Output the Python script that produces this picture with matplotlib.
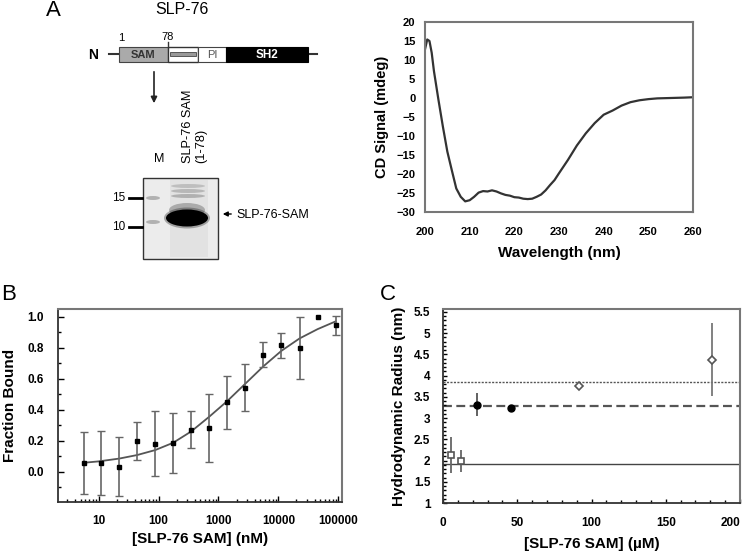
import numpy as np
import matplotlib
matplotlib.use("Agg")
import matplotlib.pyplot as plt
from matplotlib.patches import Rectangle, Ellipse, FancyArrowPatch
from matplotlib.ticker import MultipleLocator, FixedLocator, NullFormatter

plt.rcParams['font.family'] = ['Liberation Sans', 'DejaVu Sans']

# CD spectrum (panel A right)
cd_wl = [200.0, 200.5, 201.0, 201.5, 202.0, 203.0, 204.0, 205.0, 206.0, 207.0,
         208.0, 209.0, 210.0, 211.0, 212.0, 213.0, 214.0, 215.0, 216.0, 217.0,
         218.0, 219.0, 220.0, 221.0, 222.0, 223.0, 224.0, 225.0, 226.0, 227.0,
         228.0, 229.0, 230.0, 232.0, 234.0, 236.0, 238.0, 240.0, 242.0, 244.0,
         246.0, 248.0, 250.0, 252.0, 255.0, 258.0, 260.0]
cd_signal = [12.8, 15.4, 15.0, 11.9, 7.1, -0.4, -7.5, -14.1, -19.0, -23.8,
             -26.0, -27.2, -26.9, -26.0, -24.9, -24.5, -24.6, -24.3, -24.6, -25.1,
             -25.5, -25.7, -26.1, -26.2, -26.5, -26.6, -26.5, -26.0, -25.4, -24.3,
             -22.9, -21.6, -19.8, -16.3, -12.5, -9.3, -6.6, -4.4, -3.3, -2.0,
             -1.1, -0.6, -0.3, -0.1, 0.0, 0.1, 0.2]

# binding curve (panel B)
conc_nm = [5.6, 11, 22, 44, 88, 175, 350, 700, 1400, 2800, 5600, 11200, 22500, 45000, 90000]
frac_bound = [0.056, 0.056, 0.034, 0.20, 0.18, 0.187, 0.272, 0.283, 0.449, 0.542,
              0.755, 0.816, 0.80, 1.0, 0.944]
frac_err = [0.20, 0.205, 0.19, 0.123, 0.21, 0.195, 0.12, 0.218, 0.17, 0.15,
            0.08, 0.08, 0.20, np.nan, 0.06]
fit_conc = [5.6, 10, 22, 44, 88, 175, 350, 700, 1400, 2800, 5600, 11200, 22500, 45000, 90000]
fit_frac = [0.058, 0.067, 0.085, 0.108, 0.14, 0.187, 0.26, 0.355, 0.456, 0.568,
            0.68, 0.78, 0.86, 0.92, 0.97]

# hydrodynamic radius (panel C)
sq_conc = [5.6, 11.9]
sq_rh = [2.13, 2.0]
sq_err = [0.42, 0.26]
ci_conc = [23, 46]
ci_rh = [3.32, 3.23]
ci_err = [0.26, 0.07]
di_conc = [91.5, 181]
di_rh = [3.76, 4.37]
di_err = [0.03, 0.86]
ref_dotted = 3.85
ref_dashed = 3.28
ref_solid = 1.91
c_xticks = [0, 50, 100, 150, 200]
c_yticks = [1, 1.5, 2, 2.5, 3, 3.5, 4, 4.5, 5, 5.5]

W, H = 745, 551
fig = plt.figure(figsize=(W / 100, H / 100), dpi=100)

# ---- overlay in pixel coordinates for the schematic and gel ----
ov = fig.add_axes([0, 0, 1, 1])
ov.set_xlim(0, W)
ov.set_ylim(H, 0)
ov.axis('off')

ov.text(53, 10, 'A', fontsize=16, ha='center', va='center')
ov.text(9, 295, 'B', fontsize=16, ha='center', va='center')
ov.text(388, 295, 'C', fontsize=16, ha='center', va='center')
ov.text(182, 9, 'SLP-76', fontsize=11.5, ha='center', va='center')

# domain diagram
ov.plot([109, 317], [54, 54], color='#333333', lw=1.5, zorder=1)
ov.text(93, 55, 'N', fontsize=10, fontweight='bold', ha='center', va='center')
ov.add_patch(Rectangle((119, 47), 49, 15, facecolor='#aaaaaa', edgecolor='#444444', lw=0.8, zorder=2))
ov.text(143, 55, 'SAM', fontsize=8, fontweight='bold', color='#333333', ha='center', va='center', zorder=3)
ov.add_patch(Rectangle((168, 47), 30, 15, facecolor='white', edgecolor='#333333', lw=1.0, zorder=2))
ov.add_patch(Rectangle((170, 52), 26, 4, facecolor='#999999', edgecolor='#444444', lw=0.6, zorder=3))
ov.add_patch(Rectangle((198, 47), 28, 15, facecolor='white', edgecolor='#444444', lw=0.8, zorder=2))
ov.text(212, 55, 'PI', fontsize=8, color='#555555', ha='center', va='center', zorder=3)
ov.add_patch(Rectangle((226, 47), 82, 15, facecolor='black', edgecolor='black', lw=0.8, zorder=2))
ov.text(267, 55, 'SH2', fontsize=8.5, fontweight='bold', color='white', ha='center', va='center', zorder=3)
ov.text(121, 38, '1', fontsize=8, ha='center', va='center')
ov.text(168, 37, '78', fontsize=8, ha='center', va='center')
ov.plot([168, 168], [42, 47], color='#333333', lw=1.0)
ov.add_patch(FancyArrowPatch((154, 69), (154, 106), arrowstyle='-|>', mutation_scale=9,
                             color='#222222', lw=1.2))

# gel
ov.text(159, 159, 'M', fontsize=9, ha='center', va='center')
ov.text(188, 163, 'SLP-76 SAM', fontsize=9.2, rotation=90, ha='center', va='bottom')
ov.text(201, 163, '(1-78)', fontsize=9.2, rotation=90, ha='center', va='bottom')
ov.add_patch(Rectangle((143, 178), 75, 81, facecolor='#ececec', edgecolor='#333333', lw=1.0, zorder=1))
ov.add_patch(Rectangle((170, 180), 38, 77, facecolor='#e2e2e2', edgecolor='none', zorder=1))
for yb, a in [(186, 0.25), (191, 0.3), (196, 0.35)]:
    ov.add_patch(Ellipse((188, yb), 34, 4, facecolor='#555555', edgecolor='none', alpha=a, zorder=2))
ov.add_patch(Ellipse((153, 198), 14, 4, facecolor='#777777', edgecolor='none', alpha=0.5, zorder=2))
ov.add_patch(Ellipse((153, 222), 14, 4, facecolor='#777777', edgecolor='none', alpha=0.5, zorder=2))
ov.add_patch(Ellipse((187, 210), 36, 14, facecolor='#444444', edgecolor='none', alpha=0.35, zorder=2))
ov.add_patch(Ellipse((187, 218), 46, 21, facecolor='#222222', edgecolor='none', alpha=0.35, zorder=2))
ov.add_patch(Ellipse((187, 218), 42, 17, facecolor='black', edgecolor='none', zorder=3))
ov.plot([129, 142], [198, 198], color='black', lw=2)
ov.plot([129, 142], [227, 227], color='black', lw=2)
ov.text(125, 198, '15', fontsize=8.5, ha='right', va='center')
ov.text(125, 227, '10', fontsize=8.5, ha='right', va='center')
ov.add_patch(FancyArrowPatch((234, 214), (220, 214), arrowstyle='-|>', mutation_scale=7,
                             color='black', lw=1.0))
ov.text(236, 215, 'SLP-76-SAM', fontsize=9, ha='left', va='center')

# ---- CD spectrum ----
ax1 = fig.add_axes([425 / W, 1 - 212 / H, 268 / W, 190 / H])
ax1.plot(cd_wl, cd_signal, color='#333333', lw=1.6)
ax1.set_xlim(200, 260)
ax1.set_ylim(-30, 20)
ax1.xaxis.set_major_locator(MultipleLocator(10))
ax1.yaxis.set_major_locator(MultipleLocator(5))
ax1.tick_params(axis='x', length=0, labelsize=8, pad=11)
ax1.tick_params(axis='y', length=0, labelsize=8, pad=7)
for lab in ax1.get_xticklabels() + ax1.get_yticklabels():
    lab.set_fontweight('bold')
for s in ax1.spines.values():
    s.set_color('#777777')
    s.set_linewidth(1.5)
ax1.set_xlabel('Wavelength (nm)', fontsize=11, fontweight='bold', labelpad=6)
ax1.set_ylabel('CD Signal (mdeg)', fontsize=10.5, fontweight='bold', labelpad=5)

# ---- binding curve ----
ax2 = fig.add_axes([58 / W, 1 - 502 / H, 284 / W, 193 / H])
ax2.plot(fit_conc, fit_frac, color='#555555', lw=1.3, zorder=2)
ax2.errorbar(conc_nm, frac_bound, yerr=frac_err, fmt='s', color='black', ms=3.5,
             ecolor='#666666', elinewidth=1.2, capsize=3, capthick=1.0, zorder=3)
ax2.set_xscale('log')
ax2.set_xlim(2.1, 115000)
ax2.set_ylim(-0.195, 1.05)
ax2.xaxis.set_major_locator(FixedLocator([10, 100, 1000, 10000, 100000]))
ax2.set_xticklabels(['10', '100', '1000', '10000', '100000'])
ax2.xaxis.set_minor_locator(FixedLocator([m * 10.0 ** e for e in range(0, 5) for m in range(2, 10)
                                          if 2.5 < m * 10.0 ** e < 100000]))
ax2.xaxis.set_minor_formatter(NullFormatter())
ax2.yaxis.set_major_locator(FixedLocator([0.0, 0.2, 0.4, 0.6, 0.8, 1.0]))
ax2.set_yticklabels(['0.0', '0.2', '0.4', '0.6', '0.8', '1.0'])
ax2.yaxis.set_minor_locator(FixedLocator([-0.1, 0.1, 0.3, 0.5, 0.7, 0.9]))
ax2.tick_params(which='major', direction='in', length=4, width=1, labelsize=8.5)
ax2.tick_params(axis='x', which='major', pad=9)
ax2.tick_params(axis='y', which='major', pad=10)
ax2.tick_params(which='minor', direction='in', length=2, width=1)
for lab in ax2.get_xticklabels() + ax2.get_yticklabels():
    lab.set_fontweight('bold')
for k in ['top', 'right']:
    ax2.spines[k].set_color('#777777')
    ax2.spines[k].set_linewidth(1.5)
for k in ['left', 'bottom']:
    ax2.spines[k].set_color('#333333')
    ax2.spines[k].set_linewidth(1.3)
ax2.set_xlabel('[SLP-76 SAM] (nM)', fontsize=11, fontweight='bold', labelpad=4)
ax2.set_ylabel('Fraction Bound', fontsize=11, fontweight='bold', labelpad=8)

# ---- hydrodynamic radius ----
ax3 = fig.add_axes([443 / W, 1 - 503 / H, 297 / W, 194 / H])
ax3.axhline(ref_dotted, color='#555555', lw=1.0, ls=(0, (1.5, 1)), zorder=1)
ax3.axhline(ref_dashed, color='#555555', lw=1.6, ls=(0, (4, 2)), zorder=1)
ax3.axhline(ref_solid, color='#444444', lw=1.0, zorder=1)
ax3.errorbar(sq_conc, sq_rh, yerr=sq_err, fmt='s', mfc='white', mec='#555555', mew=1.2,
             ms=5, ecolor='#666666', elinewidth=1.3, capsize=0, zorder=3)
ax3.errorbar(ci_conc, ci_rh, yerr=ci_err, fmt='o', color='black', ms=5,
             ecolor='#555555', elinewidth=1.3, capsize=0, zorder=3)
ax3.errorbar(di_conc, di_rh, yerr=di_err, fmt='D', mfc='white', mec='#555555', mew=1.2,
             ms=4.3, ecolor='#777777', elinewidth=1.3, capsize=0, zorder=3)
ax3.set_xlim(0, 200)
ax3.set_ylim(1, 5.57)
ax3.set_xticks(c_xticks)
# last label is placed by hand so it stays inside the figure
ax3.set_xticklabels([str(v) for v in c_xticks[:-1]] + [''])
ax3.text(c_xticks[-1], -0.07, str(c_xticks[-1]), transform=ax3.get_xaxis_transform(),
         ha='right', va='top', fontsize=8.5, fontweight='bold')
ax3.xaxis.set_minor_locator(MultipleLocator(10))
ax3.yaxis.set_minor_locator(MultipleLocator(0.1))
ax3.set_yticks(c_yticks)
ax3.set_yticklabels([f'{v:g}' for v in c_yticks])
ax3.tick_params(which='major', direction='in', length=3, width=1, labelsize=8.5)
ax3.tick_params(axis='x', which='major', pad=10)
ax3.tick_params(axis='y', which='major', pad=9)
ax3.tick_params(which='minor', direction='in', length=2, width=1)
for lab in ax3.get_xticklabels() + ax3.get_yticklabels():
    lab.set_fontweight('bold')
for k in ['top', 'right']:
    ax3.spines[k].set_color('#777777')
    ax3.spines[k].set_linewidth(1.5)
for k in ['left', 'bottom']:
    ax3.spines[k].set_color('#333333')
    ax3.spines[k].set_linewidth(1.3)
ax3.set_xlabel('[SLP-76 SAM] (\u00b5M)', fontsize=11, fontweight='bold', labelpad=6)
ax3.set_ylabel('Hydrodynamic Radius (nm)', fontsize=11, fontweight='bold', labelpad=6)

fig.savefig('out.png', dpi=100)
